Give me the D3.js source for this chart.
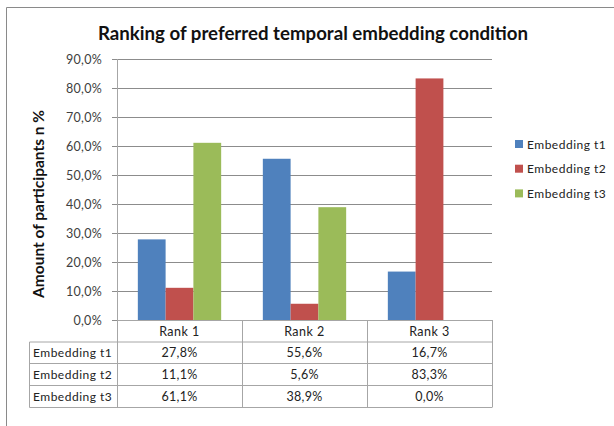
<!DOCTYPE html>
<html>
<head>
<meta charset="utf-8">
<script src="https://cdn.jsdelivr.net/npm/d3@7"></script>
<style>
  body { margin: 0; background: #fff; }
  svg { display: block; font-family: Lato, "Open Sans", sans-serif; }
</style>
</head>
<body>
<svg id="chart" width="614" height="426"></svg>
<script>
const ranks = ["Rank 1", "Rank 2", "Rank 3"];
const series = ["Embedding t1", "Embedding t2", "Embedding t3"];
const t1 = [27.8, 55.6, 16.7];
const t2 = [11.1, 5.6, 83.3];
const t3 = [61.1, 38.9, 0.0];
const yTicks = [0, 10, 20, 30, 40, 50, 60, 70, 80, 90];
const colors = ["#4F81BD", "#C0504D", "#9BBB59"];

const values = [t1, t2, t3];
const fmt = v => v.toFixed(1).replace(".", ",") + "%";

const svg = d3.select("#chart");

// chart border (only top and left are inside the picture)
svg.append("path")
  .attr("d", "M6.5,430 V7.5 H620")
  .attr("fill", "none")
  .attr("stroke", "#8a8a8a")
  .attr("stroke-width", 1);

// title
svg.append("text")
  .attr("x", 313).attr("y", 40)
  .attr("text-anchor", "middle")
  .attr("font-weight", "bold")
  .attr("font-size", 19)
  .attr("textLength", 430)
  .attr("lengthAdjust", "spacingAndGlyphs")
  .attr("fill", "#111")
  .text("Ranking of preferred temporal embedding condition");

const plotLeft = 117, plotRight = 492, plotTop = 59, plotBottom = 320;

const x = d3.scaleBand().domain(ranks).range([plotLeft, plotRight]);
const xs = d3.scaleBand().domain(series).range([0, x.bandwidth()])
  .paddingInner(0).paddingOuter(0.75);
const y = d3.scaleLinear().domain([0, 90]).range([plotBottom, plotTop]);

// gridlines + ticks
const yAxis = d3.axisLeft(y)
  .tickValues(yTicks)
  .tickSize(-(plotRight - 112))
  .tickPadding(10)
  .tickFormat(fmt);

const gy = svg.append("g")
  .attr("transform", "translate(112,0)")
  .call(yAxis);
gy.select(".domain").remove();
gy.selectAll(".tick line").attr("stroke", "#8c8c8c");
gy.selectAll(".tick text")
  .attr("font-size", 12.5)
  .attr("letter-spacing", 0.3)
  .attr("fill", "#404040")
  .attr("font-family", "Lato, sans-serif");

// y axis title
svg.append("text")
  .attr("transform", "translate(44,204) rotate(-90)")
  .attr("text-anchor", "middle")
  .attr("font-weight", "bold")
  .attr("font-size", 15.5)
  .attr("fill", "#111")
  .text("Amount of participants n %");

// bars
const groups = svg.append("g").selectAll("g")
  .data(series)
  .join("g")
  .attr("fill", (d, i) => colors[i]);

groups.selectAll("rect")
  .data((s, i) => ranks.map((r, j) => ({ r, s, v: values[i][j] })))
  .join("rect")
  .attr("x", d => x(d.r) + xs(d.s))
  .attr("width", xs.bandwidth())
  .attr("y", d => y(d.v))
  .attr("height", d => y(0) - y(d.v));

// data table
const rowH = [320, 342, 363.5, 385.5, 407.5];
const tableLeft = 29.5;
const tbl = svg.append("g")
  .attr("stroke", "#a6a6a6")
  .attr("fill", "none");

// horizontal lines
tbl.append("line").attr("x1", plotLeft).attr("x2", plotRight).attr("y1", rowH[0] + 0.5).attr("y2", rowH[0] + 0.5);
rowH.slice(1).forEach(h => {
  tbl.append("line").attr("x1", tableLeft).attr("x2", plotRight).attr("y1", h).attr("y2", h);
});
// vertical lines
tbl.append("line").attr("x1", tableLeft).attr("x2", tableLeft).attr("y1", rowH[1]).attr("y2", rowH[4]);
[...ranks.map(r => x(r)), plotRight].forEach(xx => {
  const xv = Math.round(xx) + 0.5;
  tbl.append("line").attr("x1", xv).attr("x2", xv)
    .attr("y1", xx === plotLeft ? plotTop : rowH[0]).attr("y2", rowH[4]);
});

// category labels
svg.append("g").selectAll("text")
  .data(ranks)
  .join("text")
  .attr("x", d => x(d) + x.bandwidth() / 2)
  .attr("y", (rowH[0] + rowH[1]) / 2 + 4.5)
  .attr("text-anchor", "middle")
  .attr("font-size", 12.5)
  .attr("letter-spacing", 0.5)
  .attr("fill", "#222")
  .text(d => d);

// table rows
series.forEach((s, i) => {
  const cy = (rowH[i + 1] + rowH[i + 2]) / 2 + 4.5;
  svg.append("text")
    .attr("x", 33).attr("y", cy)
    .attr("font-size", 12)
    .attr("letter-spacing", 0.5)
    .attr("fill", "#222")
    .text(s);
  svg.append("g").selectAll("text")
    .data(values[i])
    .join("text")
    .attr("x", (d, j) => x(ranks[j]) + x.bandwidth() / 2)
    .attr("y", cy)
    .attr("text-anchor", "middle")
    .attr("font-size", 12.5)
    .attr("letter-spacing", 0.3)
    .attr("fill", "#222")
    .text(d => fmt(d));
});

// legend
const legend = svg.append("g").selectAll("g")
  .data(series)
  .join("g")
  .attr("transform", (d, i) => `translate(515,${144 + i * 24.7})`);
legend.append("rect")
  .attr("x", 0).attr("y", -4)
  .attr("width", 8).attr("height", 8)
  .attr("fill", (d, i) => colors[i]);
legend.append("text")
  .attr("x", 12).attr("y", 4.5)
  .attr("font-size", 12)
  .attr("letter-spacing", 0.5)
  .attr("fill", "#222")
  .text(d => d);
</script>
</body>
</html>
